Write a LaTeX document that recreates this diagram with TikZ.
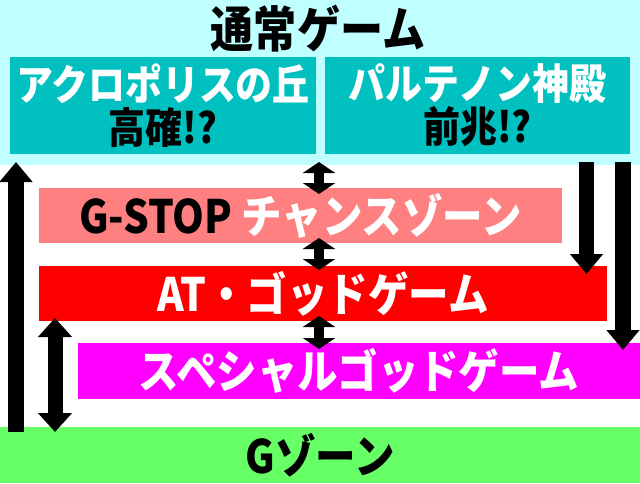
\documentclass[tikz,border=0pt]{standalone}
\usepackage{fontspec}
\setmainfont{Noto Sans CJK JP}[FakeStretch=0.88]
\usetikzlibrary{arrows.meta, positioning, calc}

\definecolor{normalbg}{HTML}{C0FFFF}
\definecolor{teal}{HTML}{00C0C0}
\definecolor{stopcol}{HTML}{FF8080}
\definecolor{atcol}{HTML}{FF0000}
\definecolor{spcol}{HTML}{FF00FF}
\definecolor{gzcol}{HTML}{66FF66}

\tikzset{
  zone/.style={inner sep=0pt, outer sep=0pt, font=\bfseries\fontsize{46}{46}\selectfont},
  bigarrow/.style={line width=16pt, -{Triangle[width=32pt,length=20pt]}},
  bigdouble/.style={line width=15pt, {Triangle[width=33pt,length=19pt]}-{Triangle[width=33pt,length=19pt]}},
  smalldouble/.style={line width=10pt, {Triangle[width=32pt,length=11pt]}-{Triangle[width=32pt,length=11pt]}}
}

\begin{document}
\begin{tikzpicture}[x=1pt, y=-1pt]
\useasboundingbox (0,0) rectangle (640,483);

% Normal game
\node[zone, fill=normalbg, minimum width=640pt, minimum height=165pt] (top) at (320,82.5) {};
\node[zone, font=\bfseries\fontsize{49}{49}\selectfont] (title) at (318,29) {通常ゲーム};
\node[zone, fill=teal, minimum width=306pt, minimum height=97pt, align=center,
  font=\bfseries\fontsize{42}{43}\selectfont] (acro) at (163,105.5)
  {\textcolor{white}{アクロポリスの丘}\\高確!?};
\node[zone, fill=teal, minimum width=305pt, minimum height=97pt, align=center,
  font=\bfseries\fontsize{42}{43}\selectfont] (parth) at (477.5,105.5)
  {\textcolor{white}{パルテノン神殿}\\前兆!?};

% Zones
\node[zone, fill=stopcol, text=white, minimum width=523pt, minimum height=55pt] (gstop) at (300.5,215.5)
  {\textcolor{black}{G-STOP} チャンスゾーン};
\node[zone, fill=atcol, text=white, minimum width=568pt, minimum height=55pt] (at) at (323,293.5)
  {AT・ゴッドゲーム};
\node[zone, fill=spcol, text=white, minimum width=562pt, minimum height=56pt] (sp) at (359,371)
  {スペシャルゴッドゲーム};
\node[zone, fill=gzcol, minimum width=640pt, minimum height=56pt] (gz) at (320,455)
  {Gゾーン};

% Arrow columns
\coordinate (upx) at (16,0);
\coordinate (dblx) at (55,0);
\coordinate (mid) at (319,0);
\coordinate (downa) at (586.5,0);
\coordinate (downb) at (623,0);

\draw[bigarrow] ($(gz.north -| upx)+(0,5)$) -- ($(top.south -| upx)+(0,-3)$);
\draw[bigdouble] ($(at.south -| dblx)+(0,-3)$) -- ($(gz.north -| dblx)+(0,5)$);
\draw[smalldouble] ($(top.south -| mid)+(0,-3)$) -- ($(gstop.north -| mid)+(0,6)$);
\draw[smalldouble] ($(gstop.south -| mid)+(0,-5)$) -- ($(at.north -| mid)+(0,4)$);
\draw[smalldouble] ($(at.south -| mid)+(0,-5)$) -- ($(sp.north -| mid)+(0,6)$);
\draw[bigarrow, line width=15pt] ($(top.south -| downa)+(0,-3)$) -- ($(at.north -| downa)+(0,8)$);
\draw[bigarrow] ($(top.south -| downb)+(0,-3)$) -- ($(sp.north -| downb)+(0,7)$);
\end{tikzpicture}
\end{document}
